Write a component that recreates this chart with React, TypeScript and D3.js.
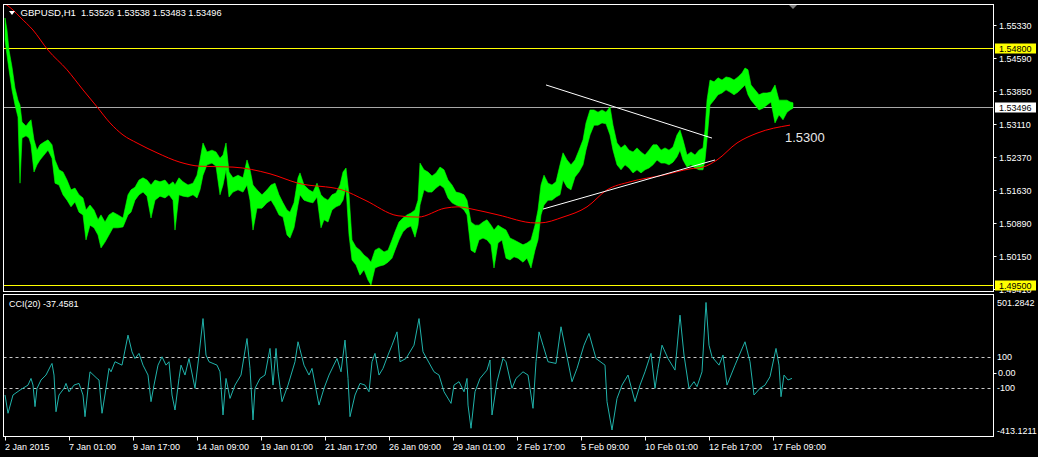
import React, { useEffect } from 'react';
import * as d3 from 'd3';

// ---------- DATA ----------
const symbolName = 'GBPUSD,H1';
const symbolQuotes = ['1.53526', '1.53538', '1.53483', '1.53496'];
const cciTitle = 'CCI(20) -37.4581';

const timeLabels = [
  '2 Jan 2015', '7 Jan 01:00', '9 Jan 17:00', '14 Jan 09:00', '19 Jan 01:00', '21 Jan 17:00',
  '26 Jan 09:00', '29 Jan 01:00', '2 Feb 17:00', '5 Feb 09:00', '10 Feb 01:00', '12 Feb 17:00', '17 Feb 09:00',
];
const barsPerLabel = 64;

const priceTicks = [1.5533, 1.5459, 1.5385, 1.5311, 1.5237, 1.5163, 1.5089, 1.5015, 1.4941];
const priceLevels = [1.548, 1.495];
const lastPrice = 1.53496;
const noteText = '1.5300';

// [bar index, high, low]
const hourlyBars: [number, number, number][] = [
  [0, 1.5548, 1.5499], [2, 1.5521, 1.5465], [4, 1.5476, 1.5432], [7, 1.5438, 1.5387], [10, 1.5391, 1.5353],
  [13, 1.5364, 1.5326], [15, 1.5353, 1.5178], [17, 1.5315, 1.5279], [21, 1.5306, 1.5284], [24, 1.5315, 1.5279],
  [26, 1.532, 1.5264], [29, 1.5275, 1.5203], [32, 1.5252, 1.5219], [35, 1.5264, 1.523], [39, 1.527, 1.5241],
  [43, 1.5275, 1.5252], [47, 1.5264, 1.5234], [50, 1.523, 1.5178], [54, 1.5208, 1.5174], [58, 1.5203, 1.5152],
  [62, 1.5185, 1.514], [66, 1.5163, 1.5125], [70, 1.5167, 1.5136], [74, 1.5152, 1.5113], [78, 1.5145, 1.5107],
  [81, 1.5118, 1.5051], [85, 1.5129, 1.5084], [89, 1.5118, 1.5078], [93, 1.5096, 1.5062], [96, 1.5107, 1.5033],
  [100, 1.5091, 1.5046], [104, 1.5107, 1.5062], [108, 1.5113, 1.5078], [113, 1.5107, 1.5078], [118, 1.51, 1.508],
  [123, 1.5152, 1.5107], [126, 1.5163, 1.5113], [130, 1.5169, 1.514], [134, 1.5185, 1.5152], [138, 1.519, 1.5158],
  [142, 1.5185, 1.5149], [146, 1.5174, 1.51], [150, 1.5185, 1.514], [155, 1.5181, 1.5149], [160, 1.5185, 1.5145],
  [164, 1.5174, 1.5152], [168, 1.5181, 1.514], [170, 1.5174, 1.5073], [174, 1.519, 1.5152], [178, 1.5181, 1.5149],
  [183, 1.5174, 1.5147], [188, 1.5178, 1.5152], [192, 1.5196, 1.5145], [195, 1.523, 1.5163], [198, 1.5268, 1.5196],
  [202, 1.5248, 1.5219], [207, 1.5252, 1.5223], [211, 1.5248, 1.5216], [215, 1.5234, 1.5152], [218, 1.5241, 1.5174],
  [221, 1.5268, 1.5208], [224, 1.5203, 1.5147], [228, 1.519, 1.5158], [233, 1.5196, 1.5163], [238, 1.519, 1.5158],
  [242, 1.523, 1.5174], [245, 1.5208, 1.514], [248, 1.5174, 1.5073], [252, 1.5163, 1.5122], [257, 1.5152, 1.5122],
  [262, 1.5163, 1.5134], [266, 1.5174, 1.514], [270, 1.5178, 1.5125], [274, 1.5152, 1.5107], [278, 1.5134, 1.5102],
  [282, 1.5118, 1.5062], [285, 1.5113, 1.5055], [289, 1.5134, 1.5078], [293, 1.519, 1.5129], [295, 1.5201, 1.5152],
  [299, 1.5174, 1.514], [304, 1.5163, 1.5136], [308, 1.5158, 1.5134], [312, 1.5178, 1.5147], [316, 1.5152, 1.5078],
  [319, 1.5145, 1.5096], [323, 1.514, 1.5091], [327, 1.5152, 1.5118], [331, 1.5156, 1.5125], [335, 1.5174, 1.5129],
  [338, 1.5203, 1.514], [341, 1.5212, 1.5169], [344, 1.5152, 1.5062], [347, 1.5051, 1.5006], [351, 1.5035, 1.4995],
  [355, 1.5028, 1.4972], [359, 1.5017, 1.4984], [363, 1.501, 1.4961], [366, 1.5001, 1.495], [370, 1.5028, 1.4988],
  [374, 1.5033, 1.4992], [379, 1.5024, 1.4995], [383, 1.5028, 1.5001], [387, 1.5051, 1.501], [390, 1.5069, 1.5028],
  [394, 1.5091, 1.5051], [398, 1.51, 1.5069], [402, 1.5107, 1.5078], [406, 1.5111, 1.5082], [410, 1.5118, 1.5057],
  [413, 1.514, 1.5084], [415, 1.5223, 1.5129], [419, 1.5208, 1.5163], [423, 1.5203, 1.5158], [427, 1.5194, 1.5158],
  [431, 1.5201, 1.5167], [435, 1.5214, 1.5174], [439, 1.5208, 1.5167], [443, 1.5185, 1.5145], [447, 1.5174, 1.5134],
  [451, 1.5158, 1.5129], [455, 1.5156, 1.5125], [459, 1.5152, 1.5118], [462, 1.514, 1.5107], [466, 1.5091, 1.5028],
  [470, 1.5084, 1.5022], [474, 1.5084, 1.5051], [478, 1.5091, 1.5055], [482, 1.5096, 1.5051], [486, 1.5084, 1.504],
  [489, 1.5073, 1.4988], [493, 1.5084, 1.5044], [497, 1.5078, 1.5051], [501, 1.5073, 1.501], [505, 1.5055, 1.5006],
  [509, 1.5051, 1.5013], [513, 1.5046, 1.501], [518, 1.504, 1.5001], [522, 1.5044, 1.501], [526, 1.5051, 1.4988],
  [530, 1.5084, 1.5028], [533, 1.5118, 1.5051], [536, 1.5174, 1.5107], [539, 1.5196, 1.5129], [543, 1.5178, 1.514],
  [547, 1.5174, 1.514], [551, 1.5181, 1.5147], [555, 1.5219, 1.5152], [558, 1.5246, 1.5185], [562, 1.523, 1.5169],
  [566, 1.5219, 1.5163], [570, 1.523, 1.5192], [574, 1.5252, 1.5203], [578, 1.5275, 1.5219], [581, 1.5313, 1.5252],
  [585, 1.5342, 1.5286], [589, 1.5342, 1.5308], [593, 1.5337, 1.5308], [597, 1.5342, 1.5313], [601, 1.5337, 1.5311],
  [605, 1.5349, 1.5286], [608, 1.5308, 1.5252], [612, 1.5268, 1.5219], [616, 1.5257, 1.5208], [620, 1.5264, 1.5219],
  [624, 1.5252, 1.5212], [628, 1.5248, 1.5201], [632, 1.5257, 1.5208], [636, 1.5248, 1.5201], [640, 1.5241, 1.5208],
  [644, 1.5252, 1.5212], [648, 1.5264, 1.5219], [652, 1.5264, 1.523], [656, 1.5252, 1.5223], [660, 1.5257, 1.5223],
  [664, 1.5252, 1.5219], [668, 1.5259, 1.5225], [672, 1.5286, 1.5237], [675, 1.5297, 1.5252], [678, 1.5275, 1.523],
  [682, 1.5241, 1.5214], [686, 1.5248, 1.5219], [690, 1.5241, 1.5212], [694, 1.5252, 1.5208], [698, 1.5257, 1.5208],
  [700, 1.5297, 1.523], [702, 1.5364, 1.5275], [705, 1.5409, 1.5353], [709, 1.5405, 1.5364], [713, 1.5414, 1.5376],
  [717, 1.5409, 1.538], [721, 1.5416, 1.5387], [725, 1.5414, 1.5382], [729, 1.5409, 1.5376], [733, 1.5416, 1.5382],
  [737, 1.5425, 1.5391], [740, 1.5436, 1.5398], [743, 1.5432, 1.5376], [746, 1.5398, 1.5364], [750, 1.5387, 1.5353],
  [754, 1.5376, 1.5342], [758, 1.538, 1.5346], [762, 1.538, 1.5353], [766, 1.5382, 1.536], [770, 1.5398, 1.5313],
  [774, 1.5364, 1.5331], [778, 1.5364, 1.532], [782, 1.5364, 1.5337], [785, 1.536, 1.5342], [788, 1.5358, 1.5346],
];

// moving average (red) : [bar index, value]
const movingAverage: [number, number][] = [
  [0, 1.558], [8, 1.5566], [15, 1.555], [28, 1.5521], [43, 1.5476], [62, 1.5432], [78, 1.5387], [92, 1.5349],
  [105, 1.5313], [118, 1.5286], [132, 1.5268], [152, 1.5246], [175, 1.5225], [195, 1.5216], [228, 1.5214],
  [265, 1.5199], [293, 1.5178], [337, 1.5163], [360, 1.514], [393, 1.5105], [413, 1.5102], [440, 1.5122],
  [453, 1.5125], [467, 1.512], [493, 1.5107], [530, 1.5089], [535, 1.5089], [558, 1.5102], [582, 1.5125],
  [602, 1.5163], [625, 1.5181], [658, 1.5196], [685, 1.521], [698, 1.5214], [712, 1.523], [732, 1.5268],
  [752, 1.529], [785, 1.5308],
];

// trend lines : [[index, price], [index, price]]
const trendLines: [number, number][][] = [
  [[541, 1.5398], [707, 1.5279]],
  [[538, 1.512], [710, 1.523]],
];

// CCI(20) : [bar index, value]
const cciValues: [number, number][] = [
  [0, -145], [3, -263], [8, -145], [15, -113], [23, -81], [26, -38], [28, -81], [30, -220], [32, -102], [36, -48],
  [41, -16], [46, 48], [47, 59], [49, -16], [51, -253], [54, -145], [59, -102], [61, -70], [64, -124], [69, -81],
  [74, -70], [78, -145], [80, -285], [83, -102], [85, 5], [92, -38], [94, -48], [97, -263], [101, -102], [104, 27],
  [106, 5], [110, 70], [117, 48], [123, 242], [127, 134], [130, 91], [134, 124], [138, 48], [143, -16], [146, -188],
  [149, -81], [153, 48], [157, 102], [161, 48], [164, 70], [167, -145], [170, -242], [174, -38], [176, 48], [180, -16],
  [184, 91], [190, -102], [194, 113], [198, 349], [201, 113], [204, 70], [212, 48], [215, 5], [218, -274], [221, -38],
  [225, -167], [230, -81], [236, -16], [242, 220], [245, 27], [248, -306], [250, -102], [255, -38], [260, -16], [265, 156],
  [268, -81], [271, 156], [273, 5], [277, -188], [283, -81], [290, 70], [293, 199], [299, 48], [304, -16], [307, 27],
  [314, -210], [319, -102], [324, -16], [332, 91], [336, 5], [340, 210], [343, -38], [345, -285], [350, -145], [355, -70],
  [360, -81], [364, -124], [367, 70], [370, 124], [374, -16], [378, 27], [383, 113], [387, 177], [392, 263], [395, 70],
  [401, 91], [409, 177], [414, 349], [418, 134], [429, 5], [434, -16], [439, -124], [446, -199], [449, -81], [454, -59],
  [459, -124], [462, -38], [463, -210], [466, -360], [470, -124], [475, -38], [482, 16], [485, 81], [487, -274], [492, -59],
  [498, 91], [501, 70], [507, -102], [511, -38], [518, 5], [523, -16], [528, -231], [531, 70], [534, 263], [538, 177],
  [543, 70], [551, 59], [556, 296], [567, -59], [572, 27], [579, 177], [584, 253], [591, 91], [600, 48], [602, -188],
  [607, -371], [612, -167], [617, -81], [623, -16], [630, -188], [635, -81], [640, 5], [646, 124], [650, -102], [653, 27],
  [657, 177], [663, 91], [670, 16], [675, 371], [679, 113], [684, -102], [689, -59], [692, -91], [697, 5], [701, 453],
  [704, 177], [707, 102], [714, 48], [718, 113], [722, -81], [730, 48], [740, 199], [745, 70], [749, -145], [755, -102],
  [760, -81], [765, -27], [771, 156], [774, 48], [776, -156], [779, -16], [783, -48], [787, -37.46],
];
const cciLevels = [100, -100];
const cciMax = 501.2842;
const cciMin = -413.1211;

// ---------- CHART ----------
const W = 1038;
const H = 457;
const FONT = "'Liberation Sans', Arial, sans-serif";

export default function App() {
  useEffect(() => {
    document.body.style.margin = '0';
    document.body.style.background = '#000';
  }, []);

  const left = 3.5;
  const right = 993.5;
  const mainTop = 4.5;
  const mainBottom = 291.5;
  const cciTop = 294.5;
  const cciBottom = 436.5;

  const lastIndex = hourlyBars[hourlyBars.length - 1][0];
  const x = d3.scaleLinear().domain([0, lastIndex]).range([5, 5 + lastIndex]);
  const y = d3.scaleLinear().domain([1.49365, 1.55782]).range([291, 4.5]);
  const yc = d3.scaleLinear().domain([cciMin, cciMax]).range([cciBottom, cciTop + 0.5]);

  const barArea = d3
    .area<[number, number, number]>()
    .x((d) => x(d[0]))
    .y0((d) => y(d[2]))
    .y1((d) => y(d[1]));
  const maLine = d3
    .line<[number, number]>()
    .x((d) => x(d[0]))
    .y((d) => y(d[1]))
    .curve(d3.curveMonotoneX);
  const tLine = d3
    .line<[number, number]>()
    .x((d) => x(d[0]))
    .y((d) => y(d[1]));
  const cciLine = d3
    .line<[number, number]>()
    .x((d) => x(d[0]))
    .y((d) => yc(d[1]));

  const fmt = (v: number) => v.toFixed(5);

  return (
    <div style={{ position: 'absolute', left: 0, top: 0, width: W, height: H, background: '#000' }}>
      <svg width={W} height={H} style={{ display: 'block', background: '#000' }} fontFamily={FONT}>
        <defs>
          <clipPath id="mainClip">
            <rect x={left} y={mainTop} width={right - left} height={mainBottom - mainTop} />
          </clipPath>
          <clipPath id="cciClip">
            <rect x={left} y={cciTop} width={right - left} height={cciBottom - cciTop} />
          </clipPath>
          <clipPath id="axisClip">
            <rect x={right} y={0} width={W - right} height={mainBottom + 2} />
          </clipPath>
        </defs>
        <rect x={0} y={0} width={W} height={H} fill="#000" />

        {/* main panel content */}
        <g clipPath="url(#mainClip)">
          {priceLevels.map((p) => (
            <line key={p} x1={left} x2={right} y1={Math.round(y(p)) + 0.5} y2={Math.round(y(p)) + 0.5} stroke="#ffff00" strokeWidth={1} />
          ))}
          <line x1={left} x2={right} y1={Math.round(y(lastPrice)) + 0.5} y2={Math.round(y(lastPrice)) + 0.5} stroke="#a8a8a8" strokeWidth={1} />
          <path d={barArea(hourlyBars) || ''} fill="#00ff00" stroke="#00ff00" strokeWidth={0.6} strokeLinejoin="round" />
          <path d={maLine(movingAverage) || ''} fill="none" stroke="#ff0000" strokeWidth={1} />
          {trendLines.map((t, i) => (
            <path key={i} d={tLine(t) || ''} fill="none" stroke="#ffffff" strokeWidth={1} />
          ))}
        </g>
        <text x={785} y={142} fill="#e8e8e8" fontSize={13}>
          {noteText}
        </text>

        {/* title */}
        <polygon points="9,11 15,11 12,15" fill="#ffffff" />
        <text x={20.5} y={15.5} fill="#ffffff" fontSize={9.6}>
          {symbolName}
        </text>
        <text x={81} y={15.5} fill="#ffffff" fontSize={9.2} style={{ whiteSpace: 'pre' }}>
          {symbolQuotes.join(' ')}
        </text>
        {/* chart shift marker */}
        <polygon points="788,4 798,4 793,9" fill="#7f7f7f" />

        {/* price axis */}
        <g clipPath="url(#axisClip)">
          {priceTicks.map((p) => {
            const yy = Math.round(y(p)) + 0.5;
            return (
              <g key={p}>
                <line x1={right} x2={right + 3} y1={yy} y2={yy} stroke="#ffffff" />
                <text x={999} y={yy + 3.3} fill="#ffffff" fontSize={9}>
                  {fmt(p)}
                </text>
              </g>
            );
          })}
          {priceLevels.map((p) => {
            const yy = Math.round(y(p)) + 0.5;
            return (
              <g key={p}>
                <rect x={995} y={yy - 5} width={41} height={10} fill="#ffff00" />
                <text x={999} y={yy + 3.3} fill="#000000" fontSize={9}>
                  {fmt(p)}
                </text>
              </g>
            );
          })}
          <rect x={995} y={Math.round(y(lastPrice)) + 0.5 - 5} width={41} height={10} fill="#ffffff" />
          <text x={999} y={Math.round(y(lastPrice)) + 3.8} fill="#000000" fontSize={9}>
            {fmt(lastPrice)}
          </text>
        </g>

        {/* main frame */}
        <rect x={left} y={mainTop} width={right - left} height={mainBottom - mainTop} fill="none" stroke="#ffffff" strokeWidth={1} />

        {/* CCI panel */}
        <g clipPath="url(#cciClip)">
          {cciLevels.map((v) => (
            <line key={v} x1={left} x2={right} y1={Math.round(yc(v)) + 0.5} y2={Math.round(yc(v)) + 0.5} stroke="#c8c8c8" strokeDasharray="3,3" />
          ))}
          <path d={cciLine(cciValues) || ''} fill="none" stroke="#20b2aa" strokeWidth={1} />
        </g>
        <rect x={left} y={cciTop} width={right - left} height={cciBottom - cciTop} fill="none" stroke="#ffffff" strokeWidth={1} />
        <text x={9} y={307} fill="#ffffff" fontSize={9}>
          {cciTitle}
        </text>
        <text x={997} y={305.5} fill="#ffffff" fontSize={9}>
          {cciMax.toFixed(4)}
        </text>
        <text x={997} y={433.5} fill="#ffffff" fontSize={9}>
          {cciMin.toFixed(4)}
        </text>
        {cciLevels.map((v) => (
          <text key={v} x={997} y={yc(v) + 3.3} fill="#ffffff" fontSize={9}>
            {String(v)}
          </text>
        ))}
        <line x1={right} x2={right + 3} y1={Math.round(yc(0)) + 0.5} y2={Math.round(yc(0)) + 0.5} stroke="#ffffff" />
        <text x={998} y={yc(0) + 3.3} fill="#ffffff" fontSize={9}>
          {(0).toFixed(2)}
        </text>

        {/* time axis */}
        {timeLabels.map((lbl, i) => {
          const xx = Math.round(x(i * barsPerLabel)) + 0.5;
          return (
            <g key={lbl}>
              <line x1={xx} x2={xx} y1={cciBottom} y2={cciBottom + 4} stroke="#ffffff" />
              <text x={xx - 0.5} y={450} fill="#ffffff" fontSize={9}>
                {lbl}
              </text>
            </g>
          );
        })}
      </svg>
    </div>
  );
}
